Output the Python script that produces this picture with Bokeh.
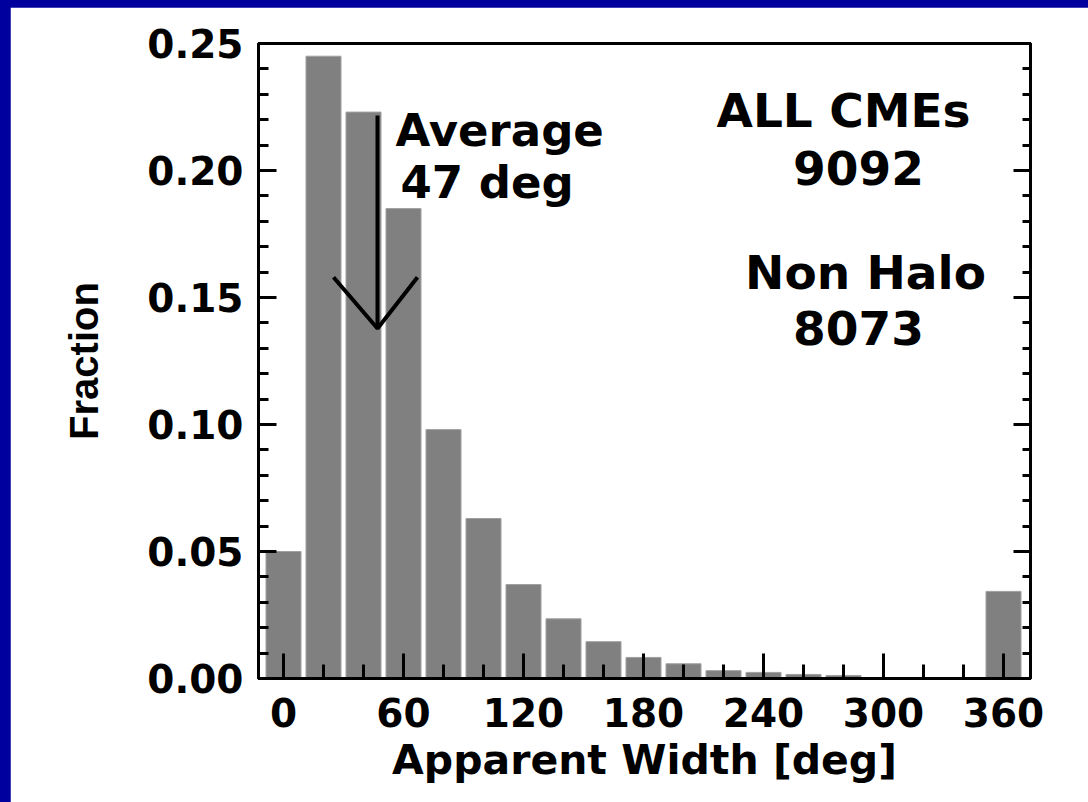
from bokeh.plotting import figure
from bokeh.models import (FixedTicker, LinearAxis, PrintfTickFormatter, Range1d,
                          ColumnDataSource, CustomJSTickFormatter)
from bokeh.layouts import column
from bokeh.core.properties import value
from bokeh.embed import file_html
from bokeh.resources import INLINE

# ---- data ----
width_bins = [0, 20, 40, 60, 80, 100, 120, 140, 160, 180, 200, 220, 240, 260, 280, 300, 320, 340, 360]
fractions = [0.050, 0.245, 0.223, 0.185, 0.098, 0.063, 0.037, 0.0235, 0.0145, 0.0083, 0.0058,
             0.0031, 0.0024, 0.0016, 0.0012, 0.0, 0.0, 0.0, 0.0343]

x_major = [0, 60, 120, 180, 240, 300, 360]
x_minor = list(range(0, 361, 20))
y_major = [0.0, 0.05, 0.10, 0.15, 0.20, 0.25]
y_minor = [i / 100 for i in range(0, 26)]

avg_deg = 47
arrow_top = 0.2217
arrow_tip = 0.1378
head_x = [25, 47, 67]
head_y = [0.158, 0.1378, 0.158]

avg_text = ["Average", "47 deg"]
avg_text_x = [56, 58.5]
avg_text_y = [0.2157, 0.1953]

info_text = ["ALL CMEs", "9092", "Non Halo", "8073"]
info_x = [280, 287.5, 291, 287.5]
info_y = [0.2236, 0.2008, 0.1598, 0.1378]

BLUE = "#00009F"
BOLD_FONT = "DejaVu Sans"

p = figure(width=1078, height=795,
           x_range=Range1d(-12.5, 373.5), y_range=Range1d(0, 0.25),
           output_backend="svg", toolbar_location=None,
           min_border_left=248, min_border_right=58,
           min_border_top=36, min_border_bottom=124,
           margin=(7, 0, 0, 10))

p.xgrid.visible = False
p.ygrid.visible = False
p.background_fill_color = "white"
p.border_fill_color = "white"
p.outline_line_color = "black"
p.outline_line_width = 3

src = ColumnDataSource(dict(x=width_bins, top=fractions))
p.vbar(x="x", top="top", width=17.5, bottom=0, source=src,
       fill_color="#808080", line_color="#a0a0a0", line_width=1)

# arrow marking the average width
p.line(x=[avg_deg, avg_deg], y=[arrow_top, arrow_tip], line_color="black", line_width=4)
p.line(x=head_x, y=head_y, line_color="black", line_width=4)

p.text(x=avg_text_x, y=avg_text_y, text=avg_text,
       text_font=value(BOLD_FONT), text_font_style="bold", text_font_size="45px",
       text_align="left", text_baseline="alphabetic", text_color="black")

p.text(x=info_x, y=info_y, text=info_text,
       text_font=value(BOLD_FONT), text_font_style="bold", text_font_size="47px",
       text_align="center", text_baseline="alphabetic", text_color="black")


def style_axis(ax, maj_in, min_in):
    ax.major_tick_in = maj_in
    ax.major_tick_out = 0
    ax.minor_tick_in = min_in
    ax.minor_tick_out = 0
    ax.major_tick_line_width = 3
    ax.minor_tick_line_width = 3
    ax.major_tick_line_color = "black"
    ax.minor_tick_line_color = "black"
    ax.axis_line_width = 3
    ax.axis_line_color = "black"
    ax.major_label_text_font = BOLD_FONT
    ax.major_label_text_font_style = "bold"
    ax.major_label_text_font_size = "39px"
    ax.major_label_text_color = "black"


# x axis
xa = p.xaxis[0]
xa.ticker = FixedTicker(ticks=x_major, minor_ticks=x_minor)
style_axis(xa, 25, 14)
xa.major_label_standoff = 19
xa.axis_label = "Apparent Width [deg]"
xa.axis_label_text_font = BOLD_FONT
xa.axis_label_text_font_style = "bold"
xa.axis_label_text_font_size = "41px"
xa.axis_label_text_color = "black"
xa.axis_label_standoff = 6

# left y axis
ya = p.yaxis[0]
ya.ticker = FixedTicker(ticks=y_major, minor_ticks=y_minor)
ya.formatter = PrintfTickFormatter(format="%.2f")
style_axis(ya, 18, 10)
ya.major_label_standoff = 15
ya.axis_label = "Fraction"
ya.axis_label_text_font = "Liberation Sans"
ya.axis_label_text_font_style = "bold"
ya.axis_label_text_font_size = "40px"
ya.axis_label_text_color = "black"
ya.axis_label_standoff = 38

# right y axis (ticks only)
ra = LinearAxis(ticker=FixedTicker(ticks=y_major, minor_ticks=y_minor),
                formatter=CustomJSTickFormatter(code="return ''"))
style_axis(ra, 17, 8)
ra.major_label_text_font_size = "1px"
p.add_layout(ra, "right")

layout = column(p, styles={"background-color": BLUE})

open("out.html", "w").write(file_html(layout, INLINE))
